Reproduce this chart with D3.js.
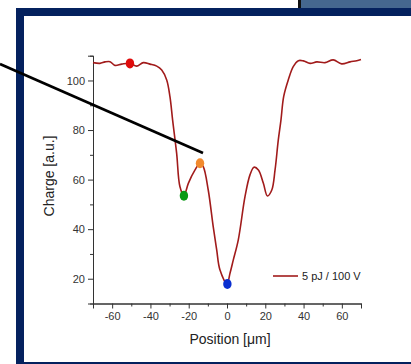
<!DOCTYPE html>
<html>
<head>
<meta charset="utf-8">
<script src="https://cdn.jsdelivr.net/npm/d3@7"></script>
<style>
  body { margin: 0; background: #fff; }
  svg { display: block; font-family: "Liberation Sans", Arial, sans-serif; }
</style>
</head>
<body>
<svg id="chart" width="411" height="364"></svg>
<script>
// charge profile
var positions = [-70, -66.4, -63.7, -61.1, -58.5, -55, -50.7, -47.2, -43.7, -40.2, -36.7, -34.1, -31.5, -29.8, -28.4,
  -26.3, -24.6, -22.5, -20.2, -16.7, -14.1, -12.4, -9.8, -7.2, -5.4, -3.7, 0,
  1.6, 3.3, 5.9, 9.4, 12, 14.1, 16.4, 19, 21.1, 23.4, 25.1, 26.8, 28.2, 29.6, 32, 34.6, 37.3, 39.9,
  43.4, 46.9, 51.2, 55.5, 59.9, 64.3, 67.8, 70];
var charges = [107.2, 106.9, 107.5, 107.6, 106.1, 106.6, 106.9, 105.8, 107.2, 106.6, 105.8, 104.2, 100.2, 93.5, 84,
  70.6, 57.2, 53.5, 58.5, 63.9, 66.6, 65.2, 55.8, 41, 31.7, 23.6, 18,
  22.3, 27.6, 35.7, 53.1, 61.9, 65, 63.9, 58.5, 53.4, 55.8, 63.9, 76, 84.1, 93.5, 100.2, 105.6, 108, 107.9,
  106.9, 107.5, 107.2, 108.3, 106.7, 107.5, 108, 108.5];

var markerX = [-50.7, -22.5, -14.1, 0.2];
var markerY = [106.9, 53.5, 66.6, 17.9];
var markerColors = ["#e00b0b", "#0a9a14", "#f28a2e", "#0a2fd0"];

var xTicks = [-60, -40, -20, 0, 20, 40, 60];
var yTicks = [20, 40, 60, 80, 100];
var legendLabel = "5 pJ / 100 V";

var svg = d3.select("#chart");

// slide decoration behind the chart
svg.append("rect").attr("x", 300).attr("y", 0).attr("width", 111).attr("height", 10).attr("fill", "#45678f");
svg.append("rect").attr("x", 298).attr("y", 0).attr("width", 3).attr("height", 10).attr("fill", "#111");
svg.append("rect").attr("x", 20).attr("y", 12).attr("width", 400).attr("height", 354)
  .attr("fill", "#fff").attr("stroke", "#04215e").attr("stroke-width", 8);

var x = d3.scaleLinear().domain([-70, 70]).range([93, 361]);
var y = d3.scaleLinear().domain([10, 110]).range([303.5, 55.7]);

var g = svg.append("g");

// axes, major + minor ticks
var xMinor = g.append("g").attr("transform", "translate(0,303.5)")
  .call(d3.axisBottom(x).tickValues([-70, -50, -30, -10, 10, 30, 50, 70]).tickSize(3).tickFormat(""));
var xAxis = g.append("g").attr("transform", "translate(0,303.5)")
  .call(d3.axisBottom(x).tickValues(xTicks).tickSize(5).tickPadding(4).tickFormat(d3.format("d")));
var yMinor = g.append("g").attr("transform", "translate(93,0)")
  .call(d3.axisLeft(y).tickValues([30, 50, 70, 90]).tickSize(3).tickFormat(""));
var yAxis = g.append("g").attr("transform", "translate(93,0)")
  .call(d3.axisLeft(y).tickValues(yTicks).tickSize(5).tickPadding(3));

[xMinor, xAxis, yMinor, yAxis].forEach(function(a) {
  a.select(".domain").attr("stroke", "#333");
  a.selectAll(".tick line").attr("stroke", "#333");
  a.selectAll("text").attr("fill", "#333").style("font-size", "11px")
    .style("font-family", "'Liberation Sans', Arial, sans-serif");
});
xAxis.selectAll("text").text(function(d) { return d < 0 ? "-" + Math.abs(d) : d; });

// axis titles
g.append("text").attr("x", 230).attr("y", 344).attr("text-anchor", "middle")
  .attr("fill", "#222").style("font-size", "14px")
  .text("Position [\u03BCm]");
g.append("text").attr("transform", "translate(54,176) rotate(-90)").attr("text-anchor", "middle")
  .attr("fill", "#222").style("font-size", "14px")
  .text("Charge [a.u.]");

// curve
var line = d3.line()
  .x(function(d, i) { return x(positions[i]); })
  .y(function(d) { return y(d); })
  .curve(d3.curveCatmullRom);
g.append("path").datum(charges).attr("d", line)
  .attr("fill", "none").attr("stroke", "#a11b1b").attr("stroke-width", 1.6);

// highlighted points
g.selectAll("ellipse.mk").data(markerX).enter().append("ellipse")
  .attr("class", "mk")
  .attr("cx", function(d) { return x(d); })
  .attr("cy", function(d, i) { return y(markerY[i]); })
  .attr("rx", 4.2).attr("ry", 5)
  .attr("fill", function(d, i) { return markerColors[i]; });

// legend
g.append("line").attr("x1", 273).attr("x2", 298).attr("y1", 276).attr("y2", 276)
  .attr("stroke", "#a11b1b").attr("stroke-width", 1.6);
g.append("text").attr("x", 302).attr("y", 280).attr("fill", "#222").style("font-size", "11px")
  .text(legendLabel);

// pointer line over everything
svg.append("line").attr("x1", 0).attr("y1", 64).attr("x2", 203).attr("y2", 153)
  .attr("stroke", "#000").attr("stroke-width", 2.6);
</script>
</body>
</html>
